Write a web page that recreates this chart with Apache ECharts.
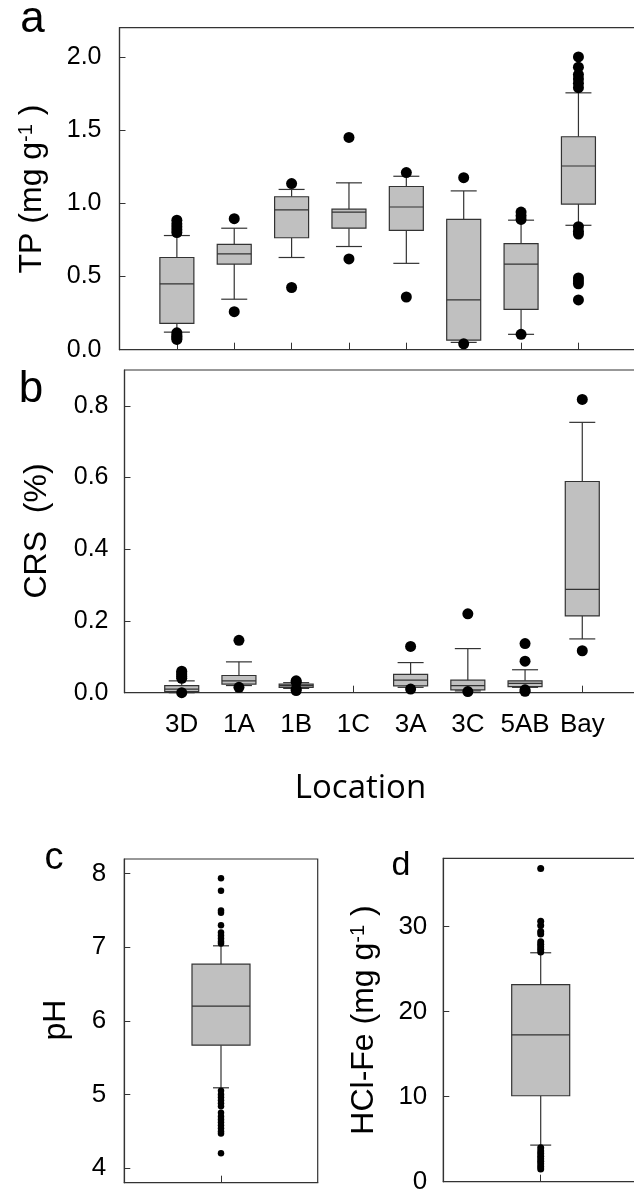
<!DOCTYPE html>
<html>
<head>
<meta charset="utf-8">
<script src="https://cdn.jsdelivr.net/npm/echarts@6/dist/echarts.min.js"></script>
<style>
  html, body { margin: 0; padding: 0; background: #fff; }
  #chart { width: 634px; height: 1190px; }
</style>
</head>
<body>
<div id="chart"></div>
<script>
  // locations along the x axis (panels a and b)
  const categories = ['3D', '1A', '1B', '1C', '3A', '3C', '5AB', 'Bay'];

  // box stats per location: [lower whisker, Q1, median, Q3, upper whisker]
  const tpStats = [
    [0.12, 0.18, 0.45, 0.63, 0.78],
    [0.345, 0.585, 0.655, 0.72, 0.83],
    [0.63, 0.765, 0.955, 1.045, 1.095],
    [0.705, 0.83, 0.94, 0.96, 1.14],
    [0.59, 0.815, 0.975, 1.115, 1.185],
    [0.05, 0.065, 0.34, 0.89, 1.085],
    [0.105, 0.275, 0.585, 0.725, 0.885],
    [0.85, 0.995, 1.255, 1.455, 1.755],
  ];
  const tpOutliers = [
    [0.115, 0.1, 0.09, 0.08, 0.07, 0.8, 0.82, 0.84, 0.86, 0.885],
    [0.26, 0.895],
    [0.425, 1.135],
    [0.62, 1.45],
    [0.36, 1.21],
    [0.04, 1.175],
    [0.105, 0.89, 0.915, 0.94],
    [0.34, 0.45, 0.47, 0.49, 0.79, 0.81, 0.84, 1.79, 1.82, 1.85, 1.88, 1.93, 2.0],
  ];

  const crsStats = [
    [0.0, 0.003, 0.01, 0.02, 0.033],
    [0.02, 0.024, 0.033, 0.048, 0.086],
    [0.012, 0.015, 0.02, 0.024, 0.028],
    null,
    [0.015, 0.019, 0.035, 0.051, 0.084],
    [0.005, 0.008, 0.02, 0.035, 0.123],
    [0.015, 0.017, 0.026, 0.033, 0.064],
    [0.15, 0.214, 0.288, 0.589, 0.754],
  ];
  const crsOutliers = [
    [0.0, 0.04, 0.045, 0.05, 0.055, 0.06],
    [0.015, 0.146],
    [0.006, 0.01, 0.03, 0.033],
    [],
    [0.01, 0.129],
    [0.003, 0.22],
    [0.004, 0.008, 0.088, 0.137],
    [0.117, 0.818],
  ];

  const phStats = [5.09, 5.67, 6.2, 6.77, 7.02];
  const phOutliers = [7.94, 7.77, 7.5, 7.47, 7.3, 7.2, 7.16, 7.12, 7.08, 7.05,
    5.05, 5.0, 4.96, 4.92, 4.88, 4.84, 4.75, 4.7, 4.66, 4.62, 4.58, 4.54, 4.5, 4.47, 4.2];

  const feStats = [4.3, 10.1, 17.25, 23.15, 26.9];
  const feOutliers = [36.8, 30.6, 30.1, 29.4, 29.1, 28.2, 27.9, 27.6, 27.3, 27.0,
    4.0, 3.6, 3.3, 3.0, 2.7, 2.4, 2.1, 1.8, 1.5];

  // tick labels
  const tpTicks = [0, 0.5, 1.0, 1.5, 2.0];
  const crsTicks = [0, 0.2, 0.4, 0.6, 0.8];
  const phTicks = [4, 5, 6, 7, 8];
  const feTicks = [0, 10, 20, 30];
  const locTicks = [1, 2, 3, 4, 5, 6, 7, 8];

  const FONT = 'Liberation Sans';
  const INK = '#333';

  const boxData = (stats) => stats
    .map((s, i) => (s ? [i + 1].concat(s) : null))
    .filter((d) => d);
  const dotData = (outs) => {
    const res = [];
    outs.forEach((list, i) => list.forEach((v) => res.push([i + 1, v])));
    return res;
  };

  function boxRenderer(boxW, capW) {
    return function (params, api) {
      const x = api.value(0);
      const lo = api.coord([x, api.value(1)]);
      const q1 = api.coord([x, api.value(2)]);
      const med = api.coord([x, api.value(3)]);
      const q3 = api.coord([x, api.value(4)]);
      const hi = api.coord([x, api.value(5)]);
      const cx = lo[0];
      const ln = (x1, y1, x2, y2) => ({
        type: 'line',
        shape: { x1, y1, x2, y2 },
        style: { stroke: INK, lineWidth: 1.2 },
      });
      return {
        type: 'group',
        children: [
          ln(cx, q3[1], cx, hi[1]),
          ln(cx, q1[1], cx, lo[1]),
          ln(cx - capW / 2, hi[1], cx + capW / 2, hi[1]),
          ln(cx - capW / 2, lo[1], cx + capW / 2, lo[1]),
          {
            type: 'rect',
            shape: { x: cx - boxW / 2, y: q3[1], width: boxW, height: q1[1] - q3[1] },
            style: { fill: '#c0c0c0', stroke: INK, lineWidth: 1.2 },
          },
          ln(cx - boxW / 2, med[1], cx + boxW / 2, med[1]),
        ],
      };
    };
  }

  const gridBase = {
    show: true,
    borderColor: INK,
    borderWidth: 1.2,
    backgroundColor: 'transparent',
    containLabel: false,
    outerBoundsMode: 'none',
  };

  function xAxisOf(gridIndex, max, ticks, labels) {
    return {
      type: 'value',
      gridIndex,
      min: 0,
      max,
      axisLine: { show: true, lineStyle: { color: INK, width: 1.2 } },
      axisTick: { show: true, inside: true, length: 7, customValues: ticks, lineStyle: { color: INK } },
      axisLabel: labels
        ? {
            show: true,
            customValues: ticks,
            formatter: (v) => labels[Math.round(v) - 1] || '',
            margin: 19,
            color: '#000',
            fontSize: 26,
            fontFamily: FONT,
          }
        : { show: false },
      splitLine: { show: false },
    };
  }

  function yAxisOf(gridIndex, min, max, ticks, fmt, margin, fontSize) {
    return {
      type: 'value',
      gridIndex,
      min,
      max,
      axisLine: { show: true, lineStyle: { color: INK, width: 1.2 } },
      axisTick: { show: true, inside: true, length: 6, customValues: ticks, lineStyle: { color: INK } },
      axisLabel: {
        customValues: ticks,
        formatter: fmt,
        margin,
        color: '#000',
        fontSize,
        fontFamily: FONT,
      },
      splitLine: { show: false },
    };
  }

  const supStyle = { fontSize: 20, fontFamily: FONT, fill: '#000', verticalAlign: 'top', lineHeight: 11 };
  const nameStyle = (size) => ({ fontSize: size, fontFamily: FONT, fill: '#000' });

  function vName(x, y, parts, size) {
    return {
      type: 'text',
      x,
      y,
      rotation: Math.PI / 2,
      style: {
        text: parts,
        align: 'center',
        verticalAlign: 'middle',
        rich: { n: nameStyle(size), s: supStyle },
      },
    };
  }

  function letter(x, y, t, size) {
    return {
      type: 'text',
      x,
      y,
      style: { text: t, fontSize: size, fontFamily: FONT, fill: '#000', align: 'center', verticalAlign: 'middle' },
    };
  }

  const dotStyle = { color: '#000', opacity: 1 };

  const chart = echarts.init(document.getElementById('chart'));
  chart.setOption({
    animation: false,
    backgroundColor: '#fff',
    grid: [
      Object.assign({ left: 119.5, top: 27.7, width: 516.3, height: 322 }, gridBase),
      Object.assign({ left: 124.5, top: 370, width: 515, height: 322.7 }, gridBase),
      Object.assign({ left: 124.3, top: 859, width: 193.4, height: 323.7 }, gridBase),
      Object.assign({ left: 443.3, top: 858.3, width: 194.8, height: 323.4 }, gridBase),
    ],
    xAxis: [
      xAxisOf(0, 9, locTicks, null),
      xAxisOf(1, 9, locTicks, categories),
      xAxisOf(2, 2, [1], null),
      xAxisOf(3, 2, [1], null),
    ],
    yAxis: [
      yAxisOf(0, 0, 2.2, tpTicks, (v) => v.toFixed(1), 18, 25),
      yAxisOf(1, 0, 0.9, crsTicks, (v) => v.toFixed(1), 16, 25),
      yAxisOf(2, 3.8, 8.2, phTicks, (v) => String(v), 18, 26),
      yAxisOf(3, 0, 38, feTicks, (v) => String(v), 16, 26),
    ],
    series: [
      {
        type: 'custom', xAxisIndex: 0, yAxisIndex: 0,
        renderItem: boxRenderer(34, 26),
        encode: { x: 0, y: [1, 2, 3, 4, 5] },
        data: boxData(tpStats), z: 2,
      },
      {
        type: 'scatter', xAxisIndex: 0, yAxisIndex: 0,
        data: dotData(tpOutliers), symbolSize: 11, itemStyle: dotStyle, z: 3,
      },
      {
        type: 'custom', xAxisIndex: 1, yAxisIndex: 1,
        renderItem: boxRenderer(34, 26),
        encode: { x: 0, y: [1, 2, 3, 4, 5] },
        data: boxData(crsStats), z: 2,
      },
      {
        type: 'scatter', xAxisIndex: 1, yAxisIndex: 1,
        data: dotData(crsOutliers), symbolSize: 11, itemStyle: dotStyle, z: 3,
      },
      {
        type: 'custom', xAxisIndex: 2, yAxisIndex: 2,
        renderItem: boxRenderer(58, 16),
        encode: { x: 0, y: [1, 2, 3, 4, 5] },
        data: boxData([phStats]), z: 2,
      },
      {
        type: 'scatter', xAxisIndex: 2, yAxisIndex: 2,
        data: dotData([phOutliers]), symbolSize: 6.5, itemStyle: dotStyle, z: 3,
      },
      {
        type: 'custom', xAxisIndex: 3, yAxisIndex: 3,
        renderItem: boxRenderer(58, 21),
        encode: { x: 0, y: [1, 2, 3, 4, 5] },
        data: boxData([feStats]), z: 2,
      },
      {
        type: 'scatter', xAxisIndex: 3, yAxisIndex: 3,
        data: dotData([feOutliers]), symbolSize: 7, itemStyle: dotStyle, z: 3,
      },
    ],
    graphic: [
      letter(32.5, 20, 'a', 44),
      letter(31, 390, 'b', 44),
      letter(54, 859, 'c', 38),
      letter(401, 866, 'd', 34),
      vName(32.5, 189, '{n|TP (mg g}{s|-1}{n| )}', 32),
      vName(37.5, 531, '{n|CRS  (%)}', 32),
      vName(56, 1020, '{n|pH}', 32),
      vName(364, 1020, '{n|HCl-Fe (mg g}{s|-1}{n| )}', 32),
      {
        type: 'text',
        x: 360.5,
        y: 789,
        style: {
          text: 'Location',
          fontSize: 33,
          fontFamily: 'Open Sans',
          fill: '#000',
          align: 'center',
          verticalAlign: 'middle',
        },
      },
    ],
  });
</script>
</body>
</html>
